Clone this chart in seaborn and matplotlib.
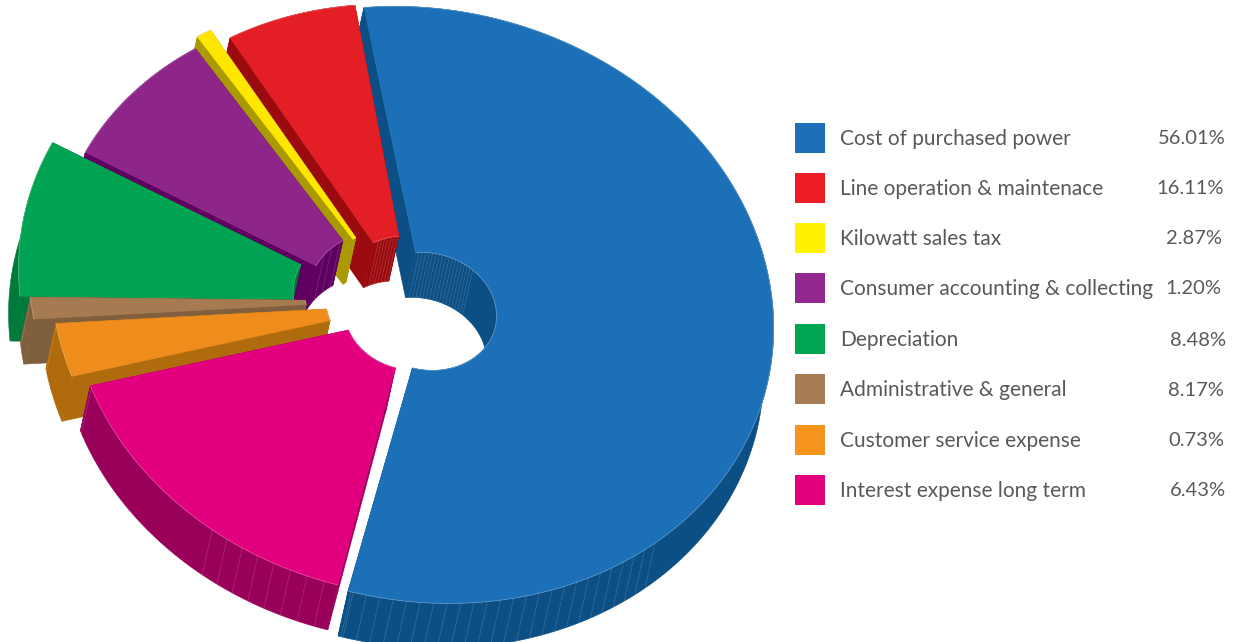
import numpy as np
import matplotlib
matplotlib.use("Agg")
import matplotlib.pyplot as plt
from matplotlib.patches import Polygon, Rectangle
import seaborn as sns

# Expense categories and their shares, in table order
categories = ["Cost of purchased power", "Line operation & maintenace", "Kilowatt sales tax",
              "Consumer accounting & collecting", "Depreciation", "Administrative & general",
              "Customer service expense", "Interest expense long term"]
shares = [56.01, 16.11, 2.87, 1.20, 8.48, 8.17, 0.73, 6.43]
share_labels = ["56.01%", "16.11%", "2.87%", "1.20%", "8.48%", "8.17%", "0.73%", "6.43%"]

# Key swatch colours, in table order
key_colors = ["#1b70b8", "#ed1c24", "#fff200", "#92278f", "#00a651", "#a67c52", "#f7941d", "#e2007f"]

# Slice styling, clockwise from the first slice
top_colors = ["#1b70b8", "#e2007f", "#ee8c1c", "#a67b52", "#00a352", "#8e2689", "#ffe600", "#e31e25"]
wall_colors = ["#0c4f84", "#99005a", "#b06b0c", "#7f5f3e", "#007a3a", "#5f0060", "#a89a00", "#9a0a0e"]
apexes = [(422, 313), (409, 317), (402, 305), (373, 301), (373, 300), (390, 302), (398, 298), (410, 295)]
inner_apexes = [(427, 313), (409, 317), (402, 305), (373, 301), (373, 300), (390, 302), (398, 298), (410, 295)]
outer = [1.012, 0.975, 1.01, 0.99, 1.02, 0.97, 1.0, 0.96]
inner = [0.2, 0.185, 0.22, 0.195, 0.23, 0.235, 0.225, 0.195]
draw_order = [0, 7, 6, 5, 4, 3, 2, 1]
facet_spans_outer = {0: (128, 181, 2.2), 1: (184, 206, 3.0)}
facet_spans_inner = {0: (-17, 32, 2.8), 7: (322, 339, 2.8), 5: (296, 314, 8.0)}

START_ANGLE = -20.0
SEMI_MAJOR, SEMI_MINOR = 350.0, 292.0
RISE = 8.0
DROP = np.array([-10.0, 45.0])
E_MAJOR = np.array([45.0, 10.0]) / np.hypot(45.0, 10.0)
E_MINOR = np.array([10.0, -45.0]) / np.hypot(45.0, 10.0)

sns.set_theme(style="white")
plt.rcParams["font.family"] = ["Lato", "DejaVu Sans"]

fig = plt.figure(figsize=(12.35, 6.42), dpi=100, facecolor="white")
ax = fig.add_axes([0, 0, 1, 1])
ax.set_xlim(0, 1235)
ax.set_ylim(642, 0)
ax.axis("off")


def project(radius, angle, origin):
    """Map disc polar coordinates (angle clockwise from the far side) onto the canvas."""
    rad = np.radians(angle)
    u = radius * np.sin(rad) * SEMI_MAJOR
    v = radius * np.cos(rad) * SEMI_MINOR
    rise = np.array([0.0, -RISE * radius])
    return np.asarray(origin) + rise + np.outer(u, E_MAJOR) + np.outer(v, E_MINOR)


def add_wall(points, color, z):
    poly = np.vstack([points, (points + DROP)[::-1]])
    ax.add_patch(Polygon(poly, closed=True, fc=color, ec=color, lw=0.4, zorder=z))


def add_facets(radius, a0, a1, step, origin, z):
    for angle in np.arange(a0, a1, step):
        p = project(radius, np.array([angle]), origin)[0]
        ax.plot([p[0], p[0] + DROP[0]], [p[1], p[1] + DROP[1]], color="white", alpha=0.25,
                lw=0.5, ls=(0, (2.5, 1)), zorder=z)


angles = START_ANGLE + np.cumsum([0.0] + [s * 3.6 for s in shares])
for order, i in enumerate(draw_order):
    a0, a1 = angles[i], angles[i + 1]
    arc = np.linspace(a0, a1, max(int(a1 - a0) * 2, 8))
    outer_pts = project(outer[i], arc, apexes[i])
    inner_pts = project(inner[i], arc, inner_apexes[i])
    z = 10 + order * 10
    add_wall(np.vstack([inner_pts[0], outer_pts[0]]), wall_colors[i], z)
    add_wall(np.vstack([inner_pts[-1], outer_pts[-1]]), wall_colors[i], z + 1)
    add_wall(inner_pts, wall_colors[i], z + 2)
    add_wall(outer_pts, wall_colors[i], z + 3)
    if i in facet_spans_inner:
        add_facets(inner[i], *facet_spans_inner[i], inner_apexes[i], z + 4)
    if i in facet_spans_outer:
        add_facets(outer[i], *facet_spans_outer[i], apexes[i], z + 4)
    add_facets(outer[i], a1 - 0.5, a1, 1.0, apexes[i], z + 4)
    top = np.vstack([outer_pts, inner_pts[::-1]])
    ax.add_patch(Polygon(top, closed=True, fc=top_colors[i], ec=top_colors[i], lw=0.4, zorder=z + 5))
    # Fine highlight where the top face meets the walls
    for rim in (outer_pts, inner_pts):
        ax.plot(rim[:, 0], rim[:, 1], color="white", alpha=0.3, lw=0.5, zorder=z + 6)

# Key table to the right of the pie
row_y = [139, 189, 239, 289, 340, 390, 441, 491]
value_right = [1226, 1224, 1222, 1221, 1226, 1224, 1224, 1226]
for name, label, color, y, right in zip(categories, share_labels, key_colors, row_y, value_right):
    ax.add_patch(Rectangle((795, y - 16), 30, 30, fc=color, ec="none", zorder=200))
    ax.text(840, y, name, fontsize=15, color="#58595b", va="center", ha="left", zorder=200)
    ax.text(right, y, label, fontsize=14.5, color="#58595b", va="center", ha="right", zorder=200)

fig.savefig("out.png", dpi=100, facecolor="white")
